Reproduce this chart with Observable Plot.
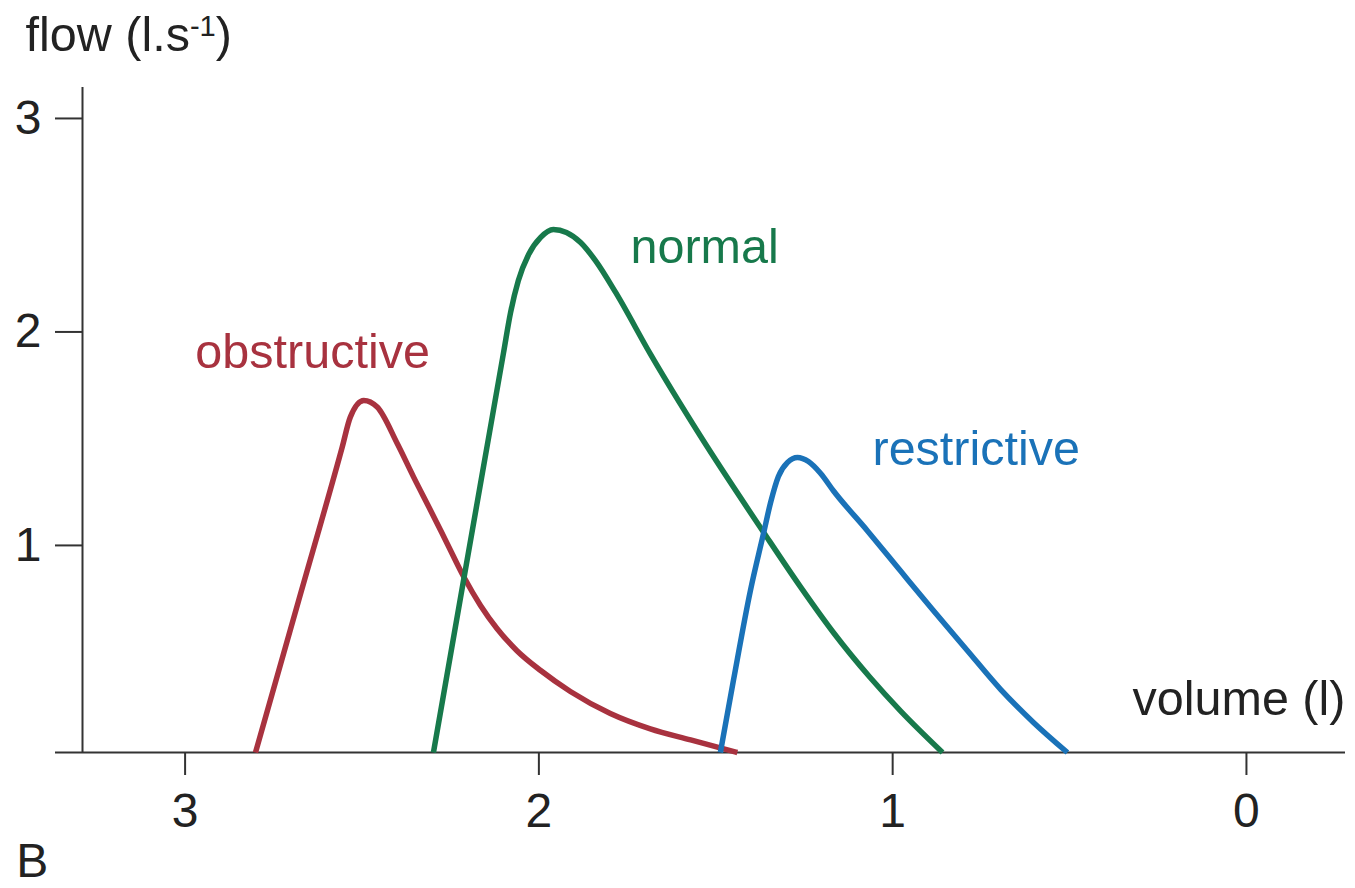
<!DOCTYPE html>
<html>
<head>
<meta charset="utf-8">
<script src="https://cdn.jsdelivr.net/npm/d3@7"></script>
<script src="https://cdn.jsdelivr.net/npm/@observablehq/plot@0.6"></script>
<style>
  html, body { margin: 0; padding: 0; background: #ffffff; }
  #chart svg { display: block; }
</style>
</head>
<body>
<div id="chart"></div>
<script>
// ---- data ----
const yFloor = 0.03;   // flow value where the volume axis sits

const obstructiveVolume = [2.801, 2.679, 2.556, 2.533, 2.495, 2.457, 2.400, 2.354, 2.306, 2.259, 2.212, 2.165, 2.118, 2.062, 1.995, 1.911, 1.798, 1.685, 1.571, 1.439];
const obstructiveFlow   = [0.03, 0.742, 1.460, 1.601, 1.679, 1.648, 1.476, 1.320, 1.164, 1.008, 0.852, 0.719, 0.610, 0.507, 0.414, 0.316, 0.213, 0.141, 0.089, 0.03];

const normalVolume = [2.298, 2.213, 2.134, 2.100, 2.080, 2.058, 2.029, 1.995, 1.959, 1.922, 1.882, 1.840, 1.783, 1.685, 1.543, 1.365, 1.261, 1.167, 1.063, 0.978, 0.859];
const normalFlow   = [0.03, 0.836, 1.581, 1.902, 2.091, 2.241, 2.363, 2.443, 2.480, 2.466, 2.419, 2.334, 2.185, 1.897, 1.511, 1.062, 0.807, 0.591, 0.380, 0.225, 0.03];

const restrictiveVolume = [1.487, 1.450, 1.402, 1.365, 1.345, 1.323, 1.297, 1.269, 1.238, 1.204, 1.167, 1.071, 0.978, 0.885, 0.789, 0.695, 0.602, 0.506];
const restrictiveFlow   = [0.03, 0.368, 0.789, 1.056, 1.201, 1.323, 1.389, 1.412, 1.393, 1.338, 1.255, 1.068, 0.881, 0.695, 0.508, 0.326, 0.171, 0.03];

const seriesNames  = ["obstructive", "normal", "restrictive"];
const seriesColors = ["#a8323f", "#17794b", "#1a72b8"];

const xTicks = [3, 2, 1, 0];
const yTicks = [3, 2, 1];

// curve labels: name, volume, flow (baseline, left edge)
const curveLabelText   = ["obstructive", "normal", "restrictive"];
const curveLabelVolume = [2.971, 1.741, 1.057];
const curveLabelFlow   = [1.829, 2.321, 1.375];

// axis titles and panel letter
const titleText   = ["flow (l.s-1)", "volume (l)"];
const titleVolume = [3.451, 0.322];
const titleFlow   = [3.314, 0.204];
const panelLetter = "B";
const panelVolume = 3.477;
const panelFlow   = -0.555;

// ---- build tables ----
const rows = [];
[[obstructiveVolume, obstructiveFlow], [normalVolume, normalFlow], [restrictiveVolume, restrictiveFlow]]
  .forEach(([vx, vy], i) => vx.forEach((v, j) => rows.push({series: seriesNames[i], volume: v, flow: vy[j]})));

const curveLabels = curveLabelText.map((t, i) => ({text: t, volume: curveLabelVolume[i], flow: curveLabelFlow[i], series: seriesNames[i]}));
const titles = titleText.map((t, i) => ({text: t, volume: titleVolume[i], flow: titleFlow[i]}));

const ink = "#222222";
const font = "'Liberation Sans', Arial, Helvetica, sans-serif";
const textSize = 48.5;

const chart = Plot.plot({
  width: 1355,
  height: 888,
  marginLeft: 82,
  marginRight: 10,
  marginTop: 87,
  marginBottom: 136,
  style: {fontFamily: font, background: "#ffffff", color: ink},
  x: {domain: [3.29, -0.28]},
  y: {domain: [yFloor, 3.145]},
  color: {domain: seriesNames, range: seriesColors},
  marks: [
    Plot.axisY({ticks: yTicks, tickSize: 27, tickPadding: 14, fontSize: 48, label: null, stroke: "#333", strokeWidth: 2, fill: ink, tickFormat: d => String(d)}),
    Plot.axisX({ticks: xTicks, tickSize: 23, tickPadding: 17, fontSize: 48, label: null, stroke: "#333", strokeWidth: 2, fill: ink, tickFormat: d => String(d)}),
    Plot.ruleX([3.29], {stroke: "#333", strokeWidth: 2}),
    Plot.ruleY([yFloor], {stroke: "#333", strokeWidth: 2, insetLeft: -27}),
    Plot.line(rows, {x: "volume", y: "flow", z: "series", stroke: "series", strokeWidth: 5.5, curve: "monotone-x", strokeLinecap: "butt", strokeLinejoin: "round"}),
    Plot.text(curveLabels, {x: "volume", y: "flow", text: "text", fill: "series", fontSize: textSize, textAnchor: "start", lineAnchor: "bottom"}),
    Plot.text(titles, {x: "volume", y: "flow", text: "text", fill: ink, fontSize: textSize, textAnchor: "start", lineAnchor: "bottom"}),
    Plot.text([panelLetter], {x: () => panelVolume, y: () => panelFlow, text: d => d, fill: ink, fontSize: 48, textAnchor: "start", lineAnchor: "bottom"})
  ]
});

// superscript for the flow unit
d3.select(chart).selectAll("text").each(function() {
  const el = d3.select(this);
  if (el.text() === "flow (l.s-1)") {
    const target = el.select("tspan").empty() ? el : el.select("tspan");
    target.text("flow (l.s");
    target.append("tspan").attr("dy", -15).attr("font-size", "0.6em").text("-1");
    target.append("tspan").attr("dy", 15).text(")");
  }
});

document.getElementById("chart").appendChild(chart);
</script>
</body>
</html>
